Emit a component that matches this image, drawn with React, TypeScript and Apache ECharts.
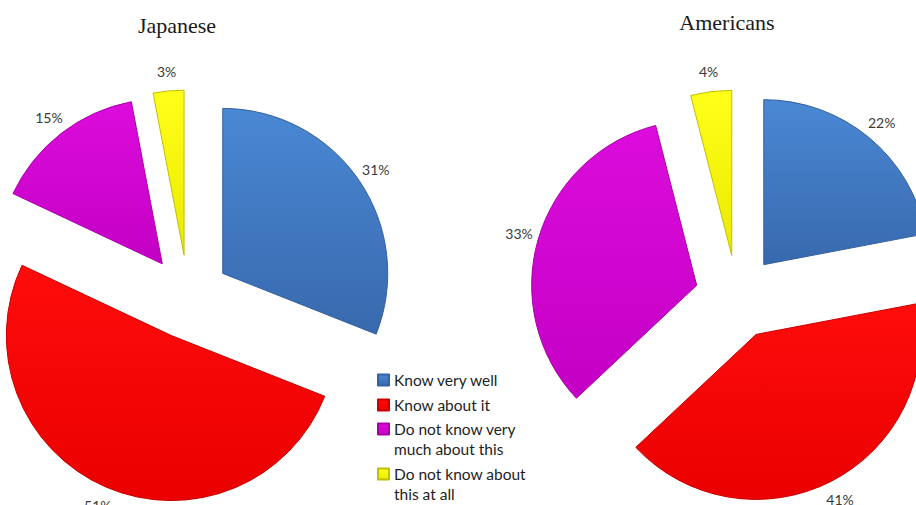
import React, { useEffect, useRef } from 'react';
import * as echarts from 'echarts';

const categories = [
  'Know very well',
  'Know about it',
  'Do not know very much about this',
  'Do not know about this at all',
];
const legendLines = [
  ['Know very well'],
  ['Know about it'],
  ['Do not know very', 'much about this'],
  ['Do not know about', 'this at all'],
];
const japaneseValues = [31, 51, 15, 3];
const americanValues = [22, 41, 33, 4];
const chartTitles = ['Japanese', 'Americans'];

const sliceColors = [
  ['#4a88d4', '#3869ad'],
  ['#ff0c0c', '#ea0000'],
  ['#dc0cdc', '#c400c4'],
  ['#ffff1a', '#e9e900'],
];
const borderColors = ['#34619f', '#c80000', '#a800a8', '#c0c000'];

const pieCenters = [[188, 297], [737, 297]];
const titleLeft = [177, 727];
const titleTop = [14, 11];
const legendTops = [370, 395, 399, 444];

export default function App() {
  const ref = useRef<HTMLDivElement>(null);
  useEffect(() => {
    const chart = echarts.init(ref.current!, null, { renderer: 'svg' });
    const grad = (i: number) =>
      new echarts.graphic.LinearGradient(0, 0, 0, 1, [
        { offset: 0, color: sliceColors[i][0] },
        { offset: 1, color: sliceColors[i][1] },
      ]);
    const makeData = (vals: number[]) =>
      categories.map((name, i) => ({
        name,
        value: vals[i],
        selected: true,
        itemStyle: { color: grad(i), borderColor: borderColors[i], borderWidth: 1 },
      }));
    const pieSeries = (name: string, vals: number[], center: number[]) => ({
      type: 'pie',
      name,
      center,
      radius: 165,
      startAngle: 90,
      clockwise: true,
      selectedMode: 'multiple',
      selectedOffset: 42,
      avoidLabelOverlap: false,
      data: makeData(vals),
      label: {
        show: true,
        position: 'outside',
        formatter: '{c}%',
        fontFamily: 'Lato',
        fontSize: 14,
        color: '#3a3a3a',
        distanceToLabelLine: 0,
      },
      labelLine: { show: false, length: 20, length2: 0 },
      labelLayout: { align: 'center' },
      emphasis: { disabled: true },
    });

    chart.setOption({
      animation: false,
      backgroundColor: '#ffffff',
      title: chartTitles.map((t, i) => ({
        text: t,
        left: titleLeft[i],
        top: titleTop[i],
        padding: 0,
        textAlign: 'center',
        textStyle: {
          fontFamily: 'Liberation Serif',
          fontSize: 22,
          fontWeight: 'normal',
          color: '#1a1a1a',
        },
      })),
      legend: legendLines.map((lines, i) => ({
        orient: 'vertical',
        left: 377,
        top: legendTops[i],
        padding: 0,
        selectedMode: false,
        icon: 'rect',
        itemWidth: 11,
        itemHeight: 11,
        data: [categories[i]],
        // a blank leading line keeps the marker level with the first text line
        formatter: () => (lines.length > 1 ? '\n' : '') + lines.join('\n'),
        textStyle: {
          fontFamily: 'Lato',
          fontSize: 15.5,
          color: '#1e1e1e',
          lineHeight: 20,
        },
      })),
      series: [
        pieSeries(chartTitles[0], japaneseValues, pieCenters[0]),
        pieSeries(chartTitles[1], americanValues, pieCenters[1]),
      ],
    });
    return () => chart.dispose();
  }, []);
  return (
    <div
      ref={ref}
      style={{ position: 'fixed', left: 0, top: 0, width: 916, height: 505 }}
    />
  );
}
